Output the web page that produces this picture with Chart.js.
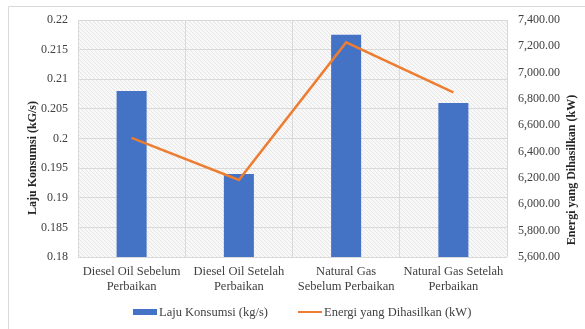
<!DOCTYPE html>
<html>
<head>
<meta charset="utf-8">
<script src="https://cdn.jsdelivr.net/npm/chart.js@4/dist/chart.umd.min.js"></script>
<style>
  html, body { margin: 0; padding: 0; background: #ffffff; }
  #wrap { position: relative; width: 585px; height: 329px; }
</style>
</head>
<body>
<div id="wrap"><canvas id="c" width="585" height="329"></canvas></div>
<script>
// Categories (two-line labels)
const categories = [
  ['Diesel Oil Sebelum', 'Perbaikan'],
  ['Diesel Oil Setelah', 'Perbaikan'],
  ['Natural Gas', 'Sebelum Perbaikan'],
  ['Natural Gas Setelah', 'Perbaikan']
];
// Fuel consumption rate (kg/s)
const lajuKonsumsi = [0.208, 0.194, 0.2175, 0.206];
// Generated energy (kW)
const energiDihasilkan = [6505, 6185, 7230, 6850];

const seriesNames = ['Laju Konsumsi (kg/s)', 'Energi yang Dihasilkan (kW)'];
const leftTitle = 'Laju Konsumsi (kG/s)';
const rightTitle = 'Energi yang Dihasilkan (kW)';

const BLUE = '#4472C4';
const ORANGE = '#ED7D31';
const GRID = '#d9d9d9';
const TEXT = '#404040';
const FONT = '"Liberation Serif", "DejaVu Serif", serif';

// Plot area box
const PLOT = { left: 78, right: 507, top: 20, bottom: 257 };

function makeHatch() {
  const p = document.createElement('canvas');
  p.width = 4; p.height = 4;
  const g = p.getContext('2d');
  g.fillStyle = '#f8f8f8';
  g.fillRect(0, 0, 4, 4);
  g.strokeStyle = '#e6e6e6';
  g.lineWidth = 1;
  g.beginPath();
  g.moveTo(0, 0); g.lineTo(4, 4);
  g.moveTo(-1, 3); g.lineTo(1, 5);
  g.moveTo(3, -1); g.lineTo(5, 1);
  g.stroke();
  return p;
}

const decorPlugin = {
  id: 'decor',
  beforeDraw(chart) {
    const ctx = chart.ctx;
    const a = chart.chartArea;
    ctx.save();
    ctx.fillStyle = '#ffffff';
    ctx.fillRect(0, 0, chart.width, chart.height);
    ctx.strokeStyle = '#d9d9d9';
    ctx.lineWidth = 1;
    ctx.beginPath();
    ctx.moveTo(8.5, 340); ctx.lineTo(8.5, 6.5); ctx.lineTo(600, 6.5);
    ctx.stroke();
    ctx.fillStyle = ctx.createPattern(makeHatch(), 'repeat');
    ctx.fillRect(a.left, a.top, a.right - a.left, a.bottom - a.top);
    ctx.restore();
  },
  afterDraw(chart) {
    const ctx = chart.ctx;
    ctx.save();
    ctx.fillStyle = '#262626';
    ctx.font = 'bold 12px ' + FONT;
    ctx.textAlign = 'center';
    ctx.textBaseline = 'middle';
    // left axis title
    ctx.save();
    ctx.translate(33, 158);
    ctx.rotate(-Math.PI / 2);
    ctx.fillText(leftTitle, 0, 0);
    ctx.restore();
    // right axis title
    ctx.save();
    ctx.translate(572, 170);
    ctx.rotate(-Math.PI / 2);
    ctx.fillText(rightTitle, 0, 0);
    ctx.restore();

    // legend
    const ds = chart.data.datasets;
    const barDs = ds.find(d => d.type === 'bar');
    const lineDs = ds.find(d => d.type === 'line');
    ctx.font = '12.5px ' + FONT;
    ctx.textAlign = 'left';
    const ly = 312;
    ctx.fillStyle = barDs.backgroundColor;
    ctx.fillRect(133, ly - 3, 24, 6);
    ctx.fillStyle = TEXT;
    ctx.fillText(barDs.label, 159, ly + 1);
    ctx.strokeStyle = lineDs.borderColor;
    ctx.lineWidth = 2;
    ctx.beginPath();
    ctx.moveTo(298, ly); ctx.lineTo(322, ly);
    ctx.stroke();
    ctx.fillText(lineDs.label, 324, ly + 1);
    ctx.restore();
  }
};

new Chart(document.getElementById('c'), {
  type: 'bar',
  data: {
    labels: categories,
    datasets: [
      {
        type: 'line',
        label: seriesNames[1],
        data: energiDihasilkan,
        yAxisID: 'y2',
        borderColor: ORANGE,
        backgroundColor: ORANGE,
        borderWidth: 2.5,
        pointRadius: 0,
        tension: 0,
        order: 0
      },
      {
        type: 'bar',
        label: seriesNames[0],
        data: lajuKonsumsi,
        yAxisID: 'y',
        backgroundColor: BLUE,
        borderWidth: 0,
        barPercentage: 0.28,
        categoryPercentage: 1,
        order: 1
      }
    ]
  },
  options: {
    responsive: false,
    animation: false,
    devicePixelRatio: 1,
    layout: { padding: { top: PLOT.top, left: 0, right: 0, bottom: 0 } },
    plugins: { legend: { display: false }, tooltip: { enabled: false } },
    scales: {
      x: {
        offset: true,
        grid: { color: GRID, offset: true, drawTicks: false },
        border: { display: false },
        ticks: {
          color: TEXT, font: { family: FONT, size: 12.5, lineHeight: 1.15 }, padding: 8,
          maxRotation: 0, autoSkip: false
        },
        afterFit(s) { s.height = 329 - PLOT.bottom; }
      },
      y: {
        position: 'left',
        min: 0.18, max: 0.22,
        grid: { color: GRID, drawTicks: false },
        border: { display: false },
        ticks: {
          stepSize: 0.005, color: TEXT, font: { family: FONT, size: 12 }, padding: 10,
          callback: v => String(parseFloat(Number(v).toFixed(4)))
        },
        afterFit(s) { s.width = PLOT.left; }
      },
      y2: {
        position: 'right',
        min: 5600, max: 7400,
        grid: { display: false, drawTicks: false },
        border: { display: false },
        ticks: {
          stepSize: 200, color: TEXT, font: { family: FONT, size: 12 }, padding: 11,
          callback: v => Number(v).toLocaleString('en-US', { minimumFractionDigits: 2, maximumFractionDigits: 2 })
        },
        afterFit(s) { s.width = 585 - PLOT.right; }
      }
    }
  },
  plugins: [decorPlugin]
});
</script>
</body>
</html>
